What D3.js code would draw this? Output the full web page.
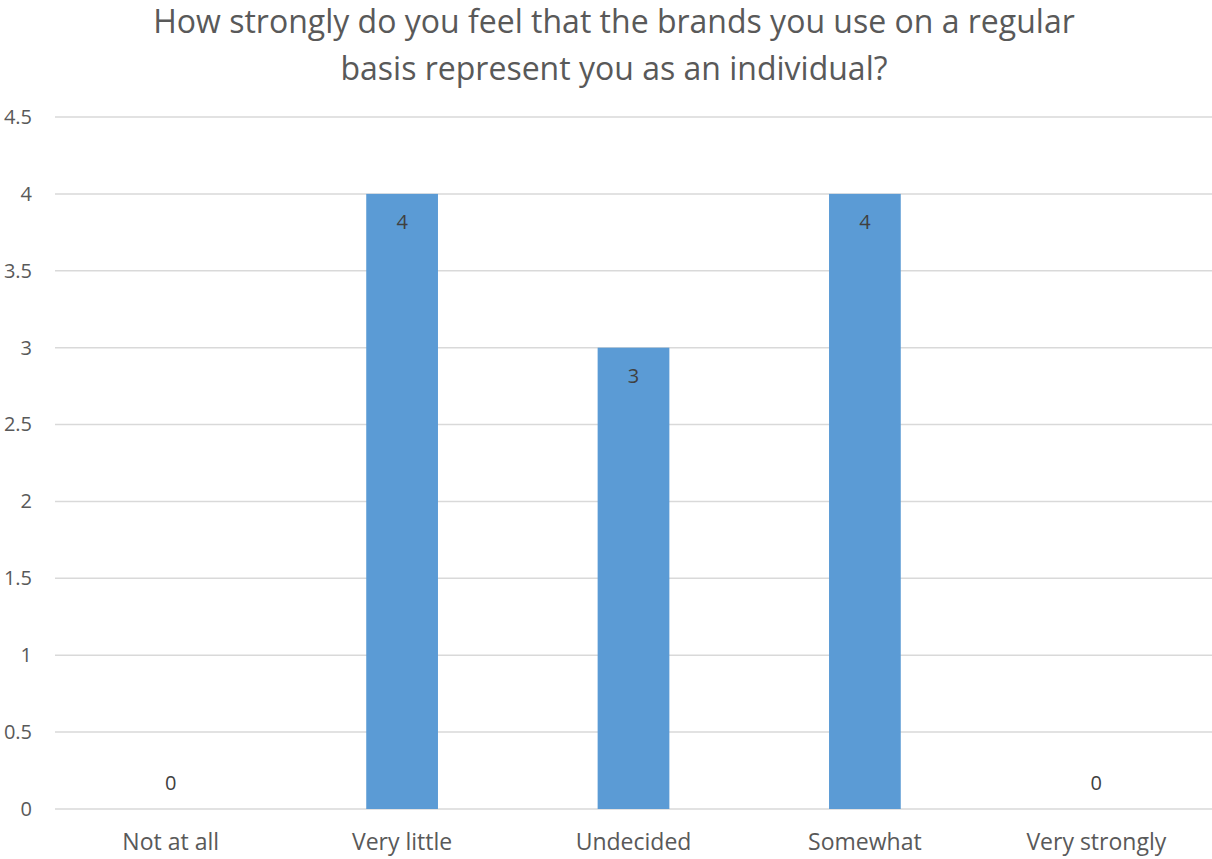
<!DOCTYPE html>
<html lang="en">
<head>
<meta charset="UTF-8">
<title>Brands represent you</title>
<style>
  body, html { margin: 0; padding: 0; background: #fff; }
  svg { display: block; font-family: "Open Sans", Lato, sans-serif; }
</style>
</head>
<body>
<script src="https://d3js.org/d3.v7.min.js"></script>
<script>
  var categories = ["Not at all", "Very little", "Undecided", "Somewhat", "Very strongly"];
  var values = [0, 4, 3, 4, 0];
  var yTicks = [0, 0.5, 1, 1.5, 2, 2.5, 3, 3.5, 4, 4.5];
  var titleLines = ["How strongly do you feel that the brands you use on a regular",
                    "basis represent you as an individual?"];

  var width = 1212, height = 859;
  var plotLeft = 55, plotRight = 1212, plotTop = 117, plotBottom = 809;
  var font = "'Open Sans', Lato, sans-serif";

  var svg = d3.select("body").append("svg")
      .attr("width", width)
      .attr("height", height);

  var x = d3.scaleBand()
      .domain(categories)
      .range([plotLeft, plotRight])
      .paddingInner(0.69)
      .paddingOuter(0.345);

  var y = d3.scaleLinear()
      .domain([0, 4.5])
      .range([plotBottom, plotTop]);

  // title
  svg.append("g").selectAll("text")
      .data(titleLines)
      .enter().append("text")
      .attr("x", 614)
      .attr("y", function(d, i) { return 33 + i * 47; })
      .attr("text-anchor", "middle")
      .attr("fill", "#595959")
      .style("font-size", "32px")
      .text(function(d) { return d; });

  // gridlines
  svg.append("g").selectAll("line")
      .data(yTicks)
      .enter().append("line")
      .attr("x1", plotLeft).attr("x2", plotRight)
      .attr("y1", function(d) { return y(d); })
      .attr("y2", function(d) { return y(d); })
      .attr("stroke", "#d9d9d9")
      .attr("stroke-width", 1.5);

  // y axis labels
  var yAxis = d3.axisLeft(y).tickValues(yTicks).tickSize(0).tickPadding(0)
      .tickFormat(function(d) { return d; });
  var yg = svg.append("g")
      .attr("transform", "translate(32,0)")
      .call(yAxis);
  yg.select(".domain").remove();
  yg.selectAll("text")
      .attr("fill", "#595959")
      .style("font-size", "20px")
      .style("font-family", font);

  // x axis labels
  var xAxis = d3.axisBottom(x).tickSize(0).tickPadding(0);
  var xg = svg.append("g")
      .attr("transform", "translate(0," + (plotBottom + 25) + ")")
      .call(xAxis);
  xg.select(".domain").remove();
  xg.selectAll("text")
      .attr("fill", "#595959")
      .style("font-size", "23px")
      .style("font-family", font);

  // bars
  svg.append("g").selectAll("rect")
      .data(values)
      .enter().append("rect")
      .attr("x", function(d, i) { return x(categories[i]); })
      .attr("y", function(d) { return y(d); })
      .attr("width", x.bandwidth())
      .attr("height", function(d) { return plotBottom - y(d); })
      .attr("fill", "#5b9bd5");

  // data labels
  svg.append("g").selectAll("text")
      .data(values)
      .enter().append("text")
      .attr("x", function(d, i) { return x(categories[i]) + x.bandwidth() / 2; })
      .attr("y", function(d) { return d > 0 ? y(d) + 35 : y(d) - 19; })
      .attr("text-anchor", "middle")
      .attr("fill", "#404040")
      .style("font-size", "20px")
      .text(function(d) { return d; });
</script>
</body>
</html>
